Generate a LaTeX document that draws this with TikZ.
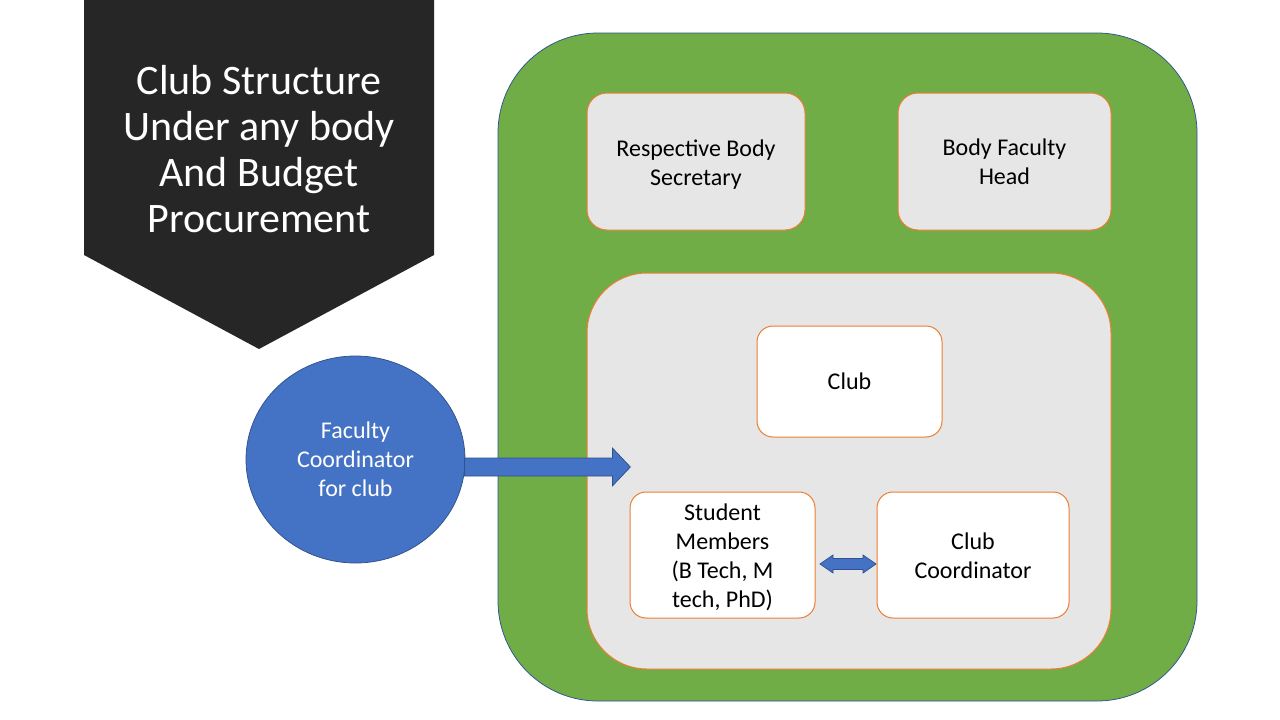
\documentclass[tikz,border=0pt]{standalone}
\usepackage{fontspec}
\usetikzlibrary{shapes.geometric}
\setmainfont{Carlito}
\definecolor{darkbg}{HTML}{262626}
\definecolor{grn}{HTML}{70AD47}
\definecolor{bluebd}{HTML}{2F528F}
\definecolor{bluef}{HTML}{4472C4}
\definecolor{greyf}{HTML}{E7E6E6}
\definecolor{orng}{HTML}{ED7D31}
\begin{document}
\begin{tikzpicture}[x=1pt,y=-1pt,
  txt/.style={align=center,font=\fontsize{24}{29}\selectfont,text=black},
  greybox/.style={draw=orng,line width=1pt,fill=greyf,rounded corners=20pt,inner sep=0pt,outer sep=0pt},
  whitebox/.style={draw=orng,line width=1pt,fill=white,rounded corners=16pt,inner sep=0pt,outer sep=0pt},
  blockarrow/.style={fill=bluef,draw=bluebd,line width=0.75pt}]
\useasboundingbox[fill=white] (0,0) rectangle (1280,720);
% title banner
\fill[darkbg] (84,0) -- (434,0) -- (434,255) -- (259,349) -- (84,255) -- cycle;
\node[align=center,text=white,font=\fontsize{42}{46}\selectfont] (title) at (259,149) {Club Structure\\Under any body\\And Budget\\Procurement};
% green container
\node[draw=bluebd,line width=0.75pt,fill=grn,rounded corners=100pt,minimum width=699pt,minimum height=668pt,inner sep=0pt] (body) at (847.5,367) {};
\node[greybox,minimum width=218pt,minimum height=137pt] (rbs) at (696,161.5) {};
\node[txt] at ([yshift=-3pt]rbs.center) {Respective Body\\Secretary};
\node[greybox,minimum width=213pt,minimum height=137pt] (bfh) at (1004.5,161.5) {};
\node[txt] at (bfh) {Body Faculty\\Head};
\node[greybox,rounded corners=60pt,minimum width=524pt,minimum height=396pt] (inner) at (849,471) {};
\node[whitebox,minimum width=185pt,minimum height=111pt] (club) at (849.5,381.5) {};
\node[txt] at (club) {Club};
\node[whitebox,minimum width=185pt,minimum height=126pt] (sm) at (722.5,555) {};
\node[txt] at ([yshift=-2pt]sm.center) {Student\\Members\\(B Tech, M\\tech, PhD)};
\node[whitebox,minimum width=192pt,minimum height=126pt] (cc) at (973,555) {};
\node[txt] at ([yshift=-1pt]cc.center) {Club\\Coordinator};
% faculty circle
\node[ellipse,draw=bluebd,line width=0.75pt,fill=bluef,minimum width=219pt,minimum height=207pt,inner sep=0pt] (fc) at (355.5,459.5) {};
\node[txt,text=white] at (fc) {Faculty\\Coordinator\\for club};
% block arrow from circle into inner box
\path (fc.east) ++(-1,-1.5) coordinate (a0);
\draw[blockarrow] (a0) -- ++(148,0) -- ++(0,-10) -- ++(18,19) -- ++(-18,19) -- ++(0,-10) -- ++(-148,0) -- cycle;
% double arrow between student members and club coordinator
\path (sm.east) ++(5,9) coordinate (dl);
\draw[blockarrow] (dl) -- ++(13,-9) -- ++(0,3.5) -- ++(30,0) -- ++(0,-3.5) -- ++(13,9) -- ++(-13,9) -- ++(0,-3.5) -- ++(-30,0) -- ++(0,3.5) -- cycle;
\end{tikzpicture}
\end{document}
